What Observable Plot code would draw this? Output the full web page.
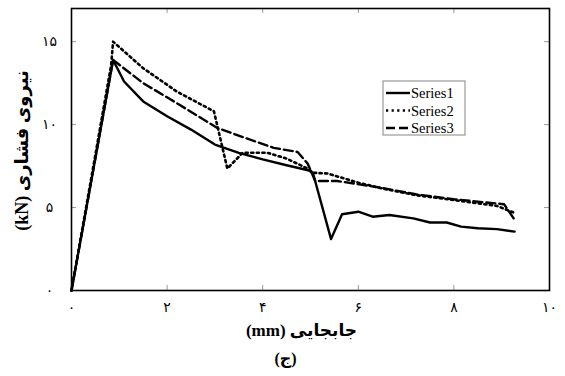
<!DOCTYPE html>
<html>
<head>
<meta charset="utf-8">
<script src="https://cdn.jsdelivr.net/npm/d3@7"></script>
<script src="https://cdn.jsdelivr.net/npm/@observablehq/plot@0.6"></script>
<style>
  body { margin: 0; background: #fff; }
  #chart { width: 565px; height: 376px; }
</style>
</head>
<body>
<div id="chart"></div>
<script>
// Force–displacement curves (displacement in mm, force in kN)
const series1X = [0, 0.87, 1.1, 1.5, 2.0, 2.5, 3.0, 3.5, 4.0, 4.5, 4.95, 5.05, 5.43, 5.66, 6.0, 6.3, 6.65, 7.15, 7.5, 7.85, 8.15, 8.5, 8.9, 9.27];
const series1Y = [0, 13.9, 12.6, 11.4, 10.5, 9.7, 8.8, 8.3, 7.9, 7.55, 7.25, 7.1, 3.1, 4.6, 4.75, 4.45, 4.55, 4.35, 4.1, 4.1, 3.85, 3.75, 3.7, 3.55];

const series2X = [0, 0.83, 0.87, 1.5, 2.2, 2.98, 3.26, 3.58, 4.1, 4.5, 4.94, 5.06, 5.36, 6.0, 6.5, 7.2, 8.0, 8.9, 9.25];
const series2Y = [0, 13.6, 15.0, 13.4, 12.0, 10.8, 7.35, 8.3, 8.3, 7.95, 7.35, 7.1, 7.05, 6.5, 6.15, 5.75, 5.45, 5.1, 4.7];

const series3X = [0, 0.87, 1.5, 2.2, 3.05, 3.68, 4.23, 4.73, 4.94, 5.1, 5.56, 6.46, 7.2, 8.0, 9.05, 9.25];
const series3Y = [0, 13.9, 12.5, 11.3, 9.8, 9.15, 8.6, 8.35, 7.65, 6.6, 6.6, 6.2, 5.8, 5.5, 5.2, 4.35];

const seriesNames = ["Series1", "Series2", "Series3"];

const xTicks = [0, 2, 4, 6, 8, 10];
const xTickLabels = ["۰", "۲", "۴", "۶", "۸", "۱۰"];
const yTicks = [0, 5, 10, 15];
const yTickLabels = ["۰", "۵", "۱۰", "۱۵"];

const xLabel = "جابجایی (mm)";
const yLabel = "نیروی فشاری (kN)";
const caption = "(ج)";

// Wrap right-to-left labels so mixed Persian/Latin text orders correctly
const rtl = s => "\u202B" + s + "\u202C";

const rows = [
  ...series1X.map((x, i) => ({series: seriesNames[0], x, y: series1Y[i]})),
  ...series2X.map((x, i) => ({series: seriesNames[1], x, y: series2Y[i]})),
  ...series3X.map((x, i) => ({series: seriesNames[2], x, y: series3Y[i]}))
];

const lineStyles = {
  Series1: {strokeWidth: 2.4, strokeDasharray: null},
  Series2: {strokeWidth: 2.6, strokeDasharray: "2.2,3.4"},
  Series3: {strokeWidth: 2.4, strokeDasharray: "9,4"}
};

const serif = "'Liberation Serif', 'DejaVu Sans', serif";
const arabic = "'DejaVu Sans', sans-serif";

const W = 565, H = 376, mL = 71, mR = 16, mT = 8, mB = 86;
const innerW = W - mL - mR, innerH = H - mT - mB;
const tickLen = 5;

const plot = Plot.plot({
  width: W,
  height: H,
  marginLeft: mL,
  marginRight: mR,
  marginTop: mT,
  marginBottom: mB,
  style: {background: "#fff", fontFamily: serif, color: "#000"},
  x: {domain: [0, 10]},
  y: {domain: [0, 17]},
  marks: [
    // inward tick marks on all four sides
    Plot.tickX(xTicks.slice(1, -1), {x: d => d, stroke: "#999", strokeWidth: 1, insetTop: innerH - tickLen}),
    Plot.tickX(xTicks.slice(1, -1), {x: d => d, stroke: "#999", strokeWidth: 1, insetBottom: innerH - tickLen}),
    Plot.tickY(yTicks.slice(1), {y: d => d, stroke: "#999", strokeWidth: 1, insetRight: innerW - tickLen}),
    Plot.tickY(yTicks.slice(1), {y: d => d, stroke: "#999", strokeWidth: 1, insetLeft: innerW - tickLen}),
    Plot.axisX(xTicks, {
      tickSize: 0, tickPadding: 12, label: null,
      tickFormat: d => xTickLabels[xTicks.indexOf(d)],
      fontSize: 14, fontFamily: arabic
    }),
    Plot.axisY(yTicks, {
      tickSize: 0, tickPadding: 22, label: null, textAnchor: "middle",
      tickFormat: d => yTickLabels[yTicks.indexOf(d)],
      fontSize: 14, fontFamily: arabic
    }),
    ...seriesNames.map(name =>
      Plot.line(rows.filter(r => r.series === name), {
        x: "x", y: "y", stroke: "black",
        strokeWidth: lineStyles[name].strokeWidth,
        strokeDasharray: lineStyles[name].strokeDasharray,
        strokeLinejoin: "round"
      })
    ),
    Plot.frame({stroke: "black", strokeWidth: 1.6}),
    Plot.text([rtl(xLabel)], {
      frameAnchor: "bottom", dy: 40, dx: -9, fontSize: 17, fontWeight: "bold",
      fontFamily: serif, lineAnchor: "middle", textAnchor: "middle"
    }),
    Plot.text([rtl(yLabel)], {
      frameAnchor: "left", dx: -49, dy: 1, rotate: -90, fontSize: 18, fontWeight: "bold",
      fontFamily: serif, lineAnchor: "middle", textAnchor: "middle"
    }),
    Plot.text([rtl(caption)], {
      frameAnchor: "bottom", dy: 68, dx: -25, fontSize: 16, fontWeight: "bold",
      fontFamily: serif, lineAnchor: "middle", textAnchor: "middle"
    })
  ]
});

// Legend box inside the plot area
const svg = d3.select(plot);
const lg = svg.append("g").attr("transform", "translate(383,81)");
lg.append("rect").attr("width", 82).attr("height", 54)
  .attr("fill", "#fff").attr("stroke", "#999").attr("stroke-width", 1.2);
seriesNames.forEach((name, i) => {
  const cy = 12 + i * 17.5;
  lg.append("line").attr("x1", 3).attr("x2", 27).attr("y1", cy).attr("y2", cy)
    .attr("stroke", "black")
    .attr("stroke-width", lineStyles[name].strokeWidth)
    .attr("stroke-dasharray", lineStyles[name].strokeDasharray);
  lg.append("text").attr("x", 28).attr("y", cy).attr("dy", "0.35em")
    .attr("text-anchor", "start")
    .attr("font-family", serif).attr("font-size", 14.5).attr("fill", "black")
    .text(name);
});

document.getElementById("chart").append(plot);
</script>
</body>
</html>
